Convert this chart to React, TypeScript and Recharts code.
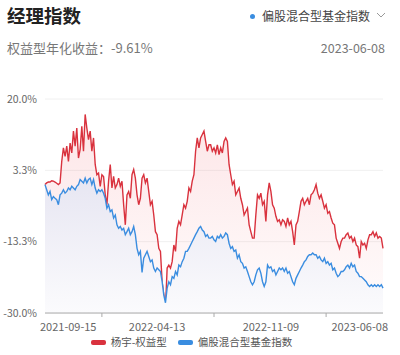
import { ComposedChart, Area, XAxis, YAxis, CartesianGrid, Legend } from 'recharts';

const FONT = '"Noto Sans CJK SC", "Noto Sans", sans-serif';

const seriesNames = ['杨宇-权益型', '偏股混合型基金指数'];
const seriesColors = ['#d9323e', '#3a8de0'];

// cumulative return, %
const managerReturn = [
  0.0, 0.4, 0.6, 0.6, 0.9, 0.8, 0.6, 0.3, 0.0, 0.4, 5.4, 8.6, 6.6, 9.0, 5.4, 9.7,
  7.4, 12.5, 9.0, 13.2, 6.2, 8.2, 13.6, 7.8, 16.4, 13.2, 10.5, 12.5, 7.8, 10.9, 4.7, 2.3,
  2.7, -0.4, 2.3, 1.9, -2.4, -4.7, 0.8, 4.7, -0.8, 1.9, -0.8, 0.0, 1.5, -0.4, 0.8, -4.7,
  -9.4, -2.4, -1.6, -3.2, 2.3, 3.5, 1.5, -2.4, -4.7, -3.2, 1.5, 2.3, 0.4, 1.5, -1.6, -4.7,
  -3.9, -7.1, -11.0, -11.7, -14.9, -15.6, -22.7, -25.8, -28.9, -19.5, -18.8, -19.5, -18.0, -14.1, -15.6, -10.2,
  -8.6, -9.4, -7.1, -4.7, -5.5, -3.9, -0.8, -1.6, 0.8, 2.3, 7.8, 10.9, 8.6, 10.9, 11.7, 12.5,
  10.1, 7.8, 9.3,
  9.3, 7.8, 8.6, 7.4, 9.3, 7.0, 8.6, 7.4, 10.1, 10.9, 10.1, 4.7, 2.3, 0.0, 0.8, -2.4,
  -1.6, -0.8, -3.2, -4.7, -7.1, -6.3, -5.5, -9.4, -11.0, -12.5, -12.5, -7.1, -2.4, -3.2, -2.0, -4.7,
  -3.9, -8.6, -2.4, 0.4, -1.6, -4.7, -5.5, -7.4, -8.6, -8.2, -9.4, -8.2, -8.6, -9.8, -7.8, -9.4,
  -8.6, -11.0, -14.1,
  -9.4, -8.6, -6.3, -3.9, -3.2, -4.7, -3.9, -3.2, -4.7, -2.4, -2.0, -1.2, 0.0, -2.0, -3.2, -2.4,
  -3.9, -5.5, -4.7, -6.7, -6.3, -7.8, -9.0, -9.4, -12.5, -13.7, -14.9, -13.3, -12.5, -12.5, -11.7, -11.3,
  -12.5, -12.1, -13.3, -12.5, -14.1, -14.5, -17.2, -13.3, -14.1, -13.7, -14.9, -12.9, -11.7, -11.7, -11.0, -12.1,
  -11.3, -12.5, -12.1, -12.5, -14.9,
];

const indexReturn = [
  0.0, -1.2, -2.4, -1.6, -3.5, -2.8, -3.2, -3.5, -4.7, -2.4, -2.0, -1.2, -2.0, -1.6, -0.8, -1.2,
  -0.4, -0.8, -1.2, -0.4, 0.0, 1.2, 0.8, 0.4, 1.5, 0.4, 1.2, 1.5, 0.0, 1.2, -0.8, -2.0,
  -1.2, -1.6, -1.2, -2.0, -3.2, -5.5, -4.7, -6.3, -5.9, -7.8, -7.1, -9.4, -10.2, -9.8, -10.6, -10.2,
  -11.7, -11.0, -10.2, -11.7, -11.0, -9.8, -11.7, -14.9, -16.4, -15.6, -20.5, -17.2, -16.4, -15.6, -16.8, -18.0,
  -17.6, -19.5, -20.3, -19.5, -19.9, -20.3, -22.7, -25.8, -27.6, -24.2, -22.7, -23.4, -21.5, -21.9, -20.3, -21.1,
  -18.8, -19.2, -18.0, -17.2, -15.6, -15.6, -14.9, -14.1, -13.3, -12.5, -11.7, -11.0, -10.2, -9.8, -10.6, -11.0,
  -12.1, -11.7, -12.5,
  -12.5, -12.1, -12.9, -13.3, -12.1, -12.5, -11.7, -12.5, -12.1, -11.3, -11.7, -13.7, -14.9, -14.5, -15.6, -15.3,
  -17.2, -16.4, -18.0, -18.4, -19.5, -19.2, -20.3, -21.5, -22.7, -23.4, -22.7, -21.1, -19.9, -19.5, -20.7, -22.7,
  -23.8, -22.7, -18.8, -19.5, -19.2, -20.3, -19.9, -21.1, -20.3, -19.5, -19.9, -19.5, -20.3, -19.5, -20.7, -20.3,
  -21.5, -22.7, -23.4,
  -21.9, -21.1, -20.3, -19.5, -18.8, -18.0, -17.6, -16.8, -16.4, -16.4, -16.0, -16.4, -16.4, -17.2, -16.8, -17.6,
  -18.0, -17.2, -18.4, -18.0, -18.8, -18.4, -19.9, -19.5, -20.7, -21.5, -21.1, -20.3, -20.3, -19.9, -19.2, -18.8,
  -19.5, -18.4, -19.2, -18.8, -20.3, -20.7, -21.5, -21.5, -21.9, -22.3, -22.7, -23.4, -23.8, -23.4, -23.8, -23.4,
  -23.8, -23.4, -23.8, -23.4, -24.2,
];

const dateLabels = ['2021-09-15', '2022-04-13', '2022-11-09', '2023-06-08'];
const yTicks = [-30, -40 / 3, 10 / 3, 20];

const data = managerReturn.map((v, i) => ({ i, manager: v, index: indexReturn[i] }));
const last = data.length - 1;
const labelIdx = [0, Math.round(last / 3), Math.round((2 * last) / 3), last];
const markIdx = [Math.round(last / 6), Math.round(last / 2), Math.round((5 * last) / 6)];
const xTicks = [...labelIdx, ...markIdx].sort((a, b) => a - b);

const XTick = ({ x, y, payload }: any) => {
  const li = labelIdx.indexOf(payload.value);
  if (li < 0) {
    return <line x1={x} x2={x} y1={y} y2={y + 4} stroke="#aaa" />;
  }
  const anchor = li === 0 ? 'start' : li === labelIdx.length - 1 ? 'end' : 'middle';
  const dx = li === 0 ? -5 : li === labelIdx.length - 1 ? 5 : 0;
  return (
    <text x={x + dx} y={y + 18} textAnchor={anchor} fontSize={11} fill="#666" fontFamily={FONT}>
      {dateLabels[li]}
    </text>
  );
};

const LegendContent = () => (
  <div
    style={{
      display: 'flex',
      justifyContent: 'center',
      alignItems: 'center',
      gap: 11,
      fontFamily: FONT,
      fontSize: 10.5,
      color: '#555',
      lineHeight: '20px',
    }}
  >
    {seriesNames.map((name, k) => (
      <span key={name} style={{ display: 'flex', alignItems: 'center' }}>
        <span
          style={{
            display: 'inline-block',
            width: 15,
            height: 5,
            borderRadius: 2,
            background: seriesColors[k],
            marginRight: 5,
          }}
        />
        {name}
      </span>
    ))}
  </div>
);

const App = () => {
  return (
    <div style={{ position: 'absolute', left: 0, top: 0, width: 400, height: 355, background: '#fff', fontFamily: FONT }}>
      <div style={{ position: 'absolute', left: 7, top: 4, fontSize: 18.5, fontWeight: 700, color: '#222', lineHeight: '22px' }}>
        经理指数
      </div>
      <div style={{ position: 'absolute', left: 250, top: 14, width: 5, height: 5, borderRadius: 3, background: seriesColors[1] }} />
      <div style={{ position: 'absolute', left: 262, top: 8, fontSize: 12, color: '#444', lineHeight: '16px' }}>
        偏股混合型基金指数
      </div>
      <svg style={{ position: 'absolute', left: 376, top: 12 }} width={10} height={7}>
        <polyline points="1,1 5,5 9,1" fill="none" stroke="#999" strokeWidth={1} />
      </svg>
      <div style={{ position: 'absolute', left: 7, top: 40, fontSize: 13, color: '#777', lineHeight: '16px' }}>
        权益型年化收益：-9.61%
      </div>
      <div style={{ position: 'absolute', right: 15, top: 40, fontSize: 12.5, color: '#777', lineHeight: '16px' }}>
        2023-06-08
      </div>

      <div style={{ position: 'absolute', left: 0, top: 0 }}>
        <ComposedChart width={400} height={355} data={data} margin={{ top: 99, right: 17, left: 0, bottom: 3 }}>
          <defs>
            <linearGradient id="redFill" x1="0" y1="0" x2="0" y2="1">
              <stop offset="0%" stopColor="#f0646e" stopOpacity={0.28} />
              <stop offset="100%" stopColor="#f0646e" stopOpacity={0.03} />
            </linearGradient>
            <linearGradient id="blueFill" x1="0" y1="0" x2="0" y2="1">
              <stop offset="0%" stopColor="#e7e6f2" stopOpacity={1} />
              <stop offset="100%" stopColor="#fbfbfd" stopOpacity={1} />
            </linearGradient>
          </defs>
          <CartesianGrid vertical={false} stroke="#f0f0f0" />
          <XAxis
            dataKey="i"
            type="number"
            domain={[0, last]}
            ticks={xTicks}
            interval={0}
            tick={(p: any) => <XTick {...p} />}
            tickLine={false}
            tickSize={0}
            tickMargin={0}
            axisLine={{ stroke: '#aaa' }}
            height={19}
          />
          <YAxis
            domain={[-30, 20]}
            ticks={yTicks}
            interval={0}
            tickFormatter={(v: number) => `${v.toFixed(1)}%`}
            tick={{ fontSize: 10.5, fill: '#666', fontFamily: FONT }}
            axisLine={false}
            tickLine={false}
            width={45}
          />
          <Area
            type="linear"
            dataKey="manager"
            name={seriesNames[0]}
            stroke={seriesColors[0]}
            strokeWidth={1.4}
            fill="url(#redFill)"
            baseValue="dataMin"
            dot={false}
            activeDot={false}
            isAnimationActive={false}
          />
          <Area
            type="linear"
            dataKey="index"
            name={seriesNames[1]}
            stroke={seriesColors[1]}
            strokeWidth={1.4}
            fill="url(#blueFill)"
            fillOpacity={1}
            baseValue="dataMin"
            dot={false}
            activeDot={false}
            isAnimationActive={false}
          />
          <Legend verticalAlign="bottom" height={20} content={() => <LegendContent />} />
        </ComposedChart>
      </div>
    </div>
  );
};

export default App;
